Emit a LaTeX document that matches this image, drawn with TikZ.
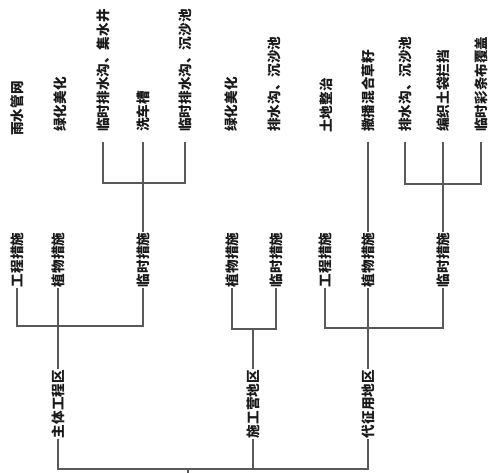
\documentclass[tikz,border=0pt]{standalone}
\usepackage{fontspec}
\newfontfamily\cjk{Noto Sans CJK SC}
\begin{document}
\begin{tikzpicture}[x=1pt,y=-1pt,
  lbl/.style={rotate=90, font=\cjk\bfseries\fontsize{13.6}{14}\selectfont, inner sep=0.5pt, text=black!90},
  leaf/.style={lbl, anchor=west, inner xsep=10pt},
  ln/.style={draw=black!65, line width=1.1pt}]
\useasboundingbox (0,0) rectangle (493,473);
% level 1
\node[lbl] (A) at (58,404) {主体工程区};
\node[lbl] (B) at (253,404) {施工营地区};
\node[lbl] (C) at (368,404) {代征用地区};
% level 2
\node[lbl] (A1) at (17,260) {工程措施};
\node[lbl] (A2) at (58,260) {植物措施};
\node[lbl] (A3) at (143,260) {临时措施};
\node[lbl] (B2) at (232,260) {植物措施};
\node[lbl] (B3) at (276,260) {临时措施};
\node[lbl] (C1) at (325,260) {工程措施};
\node[lbl] (C2) at (368,260) {植物措施};
\node[lbl] (C3) at (443,260) {临时措施};
% leaves
\node[leaf] (a1) at (17,146) {雨水管网};
\node[leaf] (a2) at (60,142) {绿化美化};
\node[leaf] (a3) at (103,142) {临时排水沟、集水井};
\node[leaf] (a4) at (143,142) {洗车槽};
\node[leaf] (a5) at (185,142) {临时排水沟、沉沙池};
\node[leaf] (b1) at (231,142) {绿化美化};
\node[leaf] (b2) at (274,142) {排水沟、沉沙池};
\node[leaf] (c1) at (326,143) {土地整治};
\node[leaf] (c2) at (368,142) {撒播混合草籽};
\node[leaf] (c3) at (405,142) {排水沟、沉沙池};
\node[leaf] (c4) at (443,142) {编织土袋拦挡};
\node[leaf] (c5) at (481,142) {临时彩条布覆盖};
% leaf connectors
\draw[ln] (a3.west) -- (a3.west |- 0,183) -- (a5.west |- 0,183) -- (a5.west);
\draw[ln] (a4.west) -- (A3.east);
\draw[ln] (c2.west) -- (C2.east);
\draw[ln] (c3.west) -- (c3.west |- 0,184) -- (c5.west |- 0,184) -- (c5.west);
\draw[ln] (c4.west) -- (C3.east);
% level 2 -> level 1
\draw[ln] (A1.west) -- (A1.west |- 0,326) -- (A3.west |- 0,326) -- (A3.west);
\draw[ln] (A2.west) -- (A.east);
\draw[ln] (B2.west) -- (B2.west |- 0,329) -- (B3.west |- 0,329) -- (B3.west);
\draw[ln] (B.east) -- (B.east |- 0,329);
\draw[ln] (C1.west) -- (C1.west |- 0,328) -- (C3.west |- 0,328) -- (C3.west);
\draw[ln] (C2.west) -- (C.east);
% level 1 -> root
\draw[ln] (A.west) -- (A.west |- 0,469) -- (C.west |- 0,469) -- (C.west);
\draw[ln] (B.west) -- (B.west |- 0,469);
\coordinate (root) at (188,473);
\draw[ln] (root) -- (root |- 0,469);
\end{tikzpicture}
\end{document}
